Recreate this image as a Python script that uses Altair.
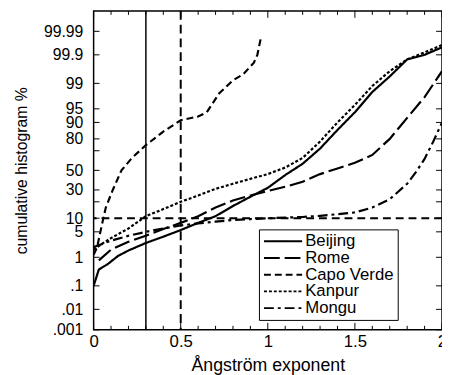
import altair as alt
import pandas as pd
from statistics import NormalDist

# ---------------- data ----------------
sites = ["Beijing", "Rome", "Capo Verde", "Kanpur", "Mongu"]

beijing_x = [0.0, 0.03, 0.08, 0.14, 0.2, 0.3, 0.4, 0.5, 0.6, 0.7, 0.8, 0.9, 1.0, 1.1, 1.2, 1.3, 1.4, 1.5, 1.6, 1.7, 1.8, 1.9, 2.0]
beijing_p = [0.1, 0.4, 0.6, 1.1, 1.6, 2.6, 3.8, 5.5, 8, 11, 17, 24, 32, 45, 57, 72, 86, 94, 98.2, 99.4, 99.85, 99.9, 99.95]

rome_x = [0.03, 0.1, 0.2, 0.3, 0.4, 0.5, 0.6, 0.7, 0.8, 0.9, 1.0, 1.1, 1.2, 1.3, 1.4, 1.5, 1.6, 1.7, 1.8, 1.9, 2.0]
rome_p = [0.8, 1.7, 2.8, 4, 5.8, 8, 11, 16, 21, 25, 29, 33, 38, 46, 52, 58, 66, 80, 92, 97.5, 99.6]

capo_x = [0.0, 0.02, 0.05, 0.07, 0.11, 0.16, 0.22, 0.3, 0.4, 0.5, 0.6, 0.65, 0.72, 0.8, 0.86, 0.92, 0.94, 0.96]
capo_p = [1.2, 2.0, 8, 16, 30, 50, 63, 75, 85, 91, 92.5, 94, 98, 99.2, 99.5, 99.8, 99.9, 99.98]

kanpur_x = [0.0, 0.05, 0.1, 0.2, 0.3, 0.4, 0.5, 0.6, 0.7, 0.8, 0.9, 1.0, 1.1, 1.2, 1.3, 1.4, 1.5, 1.6, 1.7, 1.8, 1.9, 2.0]
kanpur_p = [1.7, 2.5, 3.5, 6, 11, 15, 20, 25, 31, 36, 41, 46, 53, 63, 78, 90, 96, 98.8, 99.6, 99.85, 99.92, 99.96]

mongu_x = [0.0, 0.1, 0.2, 0.3, 0.4, 0.5, 0.6, 0.7, 0.8, 0.9, 1.0, 1.1, 1.2, 1.3, 1.4, 1.5, 1.6, 1.7, 1.8, 1.85, 1.9, 1.95, 2.0]
mongu_p = [2.0, 3, 4, 5, 6, 7, 7.8, 8.5, 9.2, 9.6, 10, 10.3, 10.6, 11.2, 12, 13, 16, 22, 36, 48, 62, 78, 90]

ytick_pcts = [99.99, 99.9, 99, 95, 90, 80, 50, 30, 10, 5, 1, 0.1, 0.01, 0.001]
ytick_labels = ["99.99", "99.9", "99", "95", "90", "80", "50", "30", "10", "5", "1", ".1", ".01", ".001"]
ytick_minor_pcts = [70, 20]
xtick_major = [0, 0.5, 1, 1.5, 2]
xtick_minor = [0.1, 0.2, 0.3, 0.4, 0.6, 0.7, 0.8, 0.9, 1.1, 1.2, 1.3, 1.4, 1.6, 1.7, 1.8, 1.9]

ref_x_solid = [0.3]
ref_x_dashed = [0.5]
ref_p_dashed = [10]

# ---------------- build tables ----------------
nd = NormalDist()
def probit(p):
    return nd.inv_cdf(p / 100.0)

rows = []
for name, xs, ps in [("Beijing", beijing_x, beijing_p), ("Rome", rome_x, rome_p),
                     ("Capo Verde", capo_x, capo_p), ("Kanpur", kanpur_x, kanpur_p),
                     ("Mongu", mongu_x, mongu_p)]:
    for i, (x, p) in enumerate(zip(xs, ps)):
        rows.append({"site": name, "x": x, "z": probit(p), "i": i})
df = pd.DataFrame(rows)

zlo, zhi = probit(0.001), probit(99.999)
yvals = [probit(p) for p in ytick_pcts]
label_expr = "''"
for v, lab in zip(yvals, ytick_labels):
    label_expr = f"abs(datum.value - ({v:.6f})) < 0.0001 ? '{lab}' : ({label_expr})"

W, H = 354, 324
FONT = "Liberation Sans"
dashes = [[1, 0], [16, 5], [7, 4], [3, 2], [10, 4, 3, 4]]

xscale = alt.Scale(domain=[0, 2], nice=False, zero=False)
yscale = alt.Scale(domain=[zlo, zhi], nice=False, zero=False)

common = dict(ticks=False, domain=False, grid=False, labelFlush=False,
              labelOverlap=False, labelBound=False, labelFont=FONT, titleFont=FONT,
              labelColor="black", titleColor="black", titleFontWeight="normal")
xaxis = alt.Axis(values=xtick_major, format="~g", title="Ångström exponent",
                 labelFontSize=17, labelPadding=4, titleFontSize=18, titlePadding=7, **common)
yaxis = alt.Axis(values=yvals, labelExpr=label_expr, title="cumulative histogram %",
                 labelFontSize=16, labelPadding=11, titleFontSize=16, titlePadding=14, **common)

def X(field="x"):
    return alt.X(f"{field}:Q", scale=xscale, axis=xaxis)

def Y(field="z"):
    return alt.Y(f"{field}:Q", scale=yscale, axis=yaxis)

lines = alt.Chart(df).mark_line(color="black", strokeWidth=2.2, clip=True).encode(
    x=X(), y=Y(),
    strokeDash=alt.StrokeDash("site:N", scale=alt.Scale(domain=sites, range=dashes),
                              legend=alt.Legend(title=None, orient="none", legendX=168, legendY=222)),
    order="i:Q",
)

vsolid = alt.Chart(pd.DataFrame({"x": ref_x_solid})).mark_rule(color="black", strokeWidth=1.5).encode(x=X())
vdash = alt.Chart(pd.DataFrame({"x": ref_x_dashed})).mark_rule(color="black", strokeWidth=2, strokeDash=[9, 5]).encode(x=X())
hdash = alt.Chart(pd.DataFrame({"z": [probit(p) for p in ref_p_dashed]})).mark_rule(
    color="black", strokeWidth=2, strokeDash=[8, 5]).encode(y=Y())

# inward ticks on all four sides
def xticks(vals, y0, y1):
    return alt.Chart(pd.DataFrame({"x": vals})).mark_rule(color="black", strokeWidth=1).encode(
        x=X(), y=alt.value(y0), y2=alt.value(y1))

yt_df = pd.DataFrame({"z": [probit(p) for p in ytick_pcts + ytick_minor_pcts]})
yt_left = alt.Chart(yt_df).mark_rule(color="black", strokeWidth=1).encode(
    y=Y(), x=alt.value(0), x2=alt.value(6))
yt_right = alt.Chart(yt_df).mark_rule(color="black", strokeWidth=1).encode(
    y=Y(), x=alt.value(W), x2=alt.value(W - 6))

chart = alt.layer(
    lines, vsolid, vdash, hdash,
    xticks(xtick_major, H, H - 7), xticks(xtick_minor, H, H - 4),
    xticks(xtick_major, 0, 7), xticks(xtick_minor, 0, 4),
    yt_left, yt_right,
).properties(
    width=W, height=H,
    autosize=alt.AutoSizeParams(type="none"),
    padding={"left": 87, "top": 0, "right": 0, "bottom": 43},
    background="white",
).configure_view(
    stroke="black", strokeWidth=1.5
).configure_legend(
    symbolType="stroke", symbolSize=1500, symbolStrokeWidth=2, symbolStrokeColor="black",
    labelFontSize=17, labelFont=FONT, labelColor="black",
    strokeColor="black", fillColor="white", padding=4,
    rowPadding=0, labelOffset=2, clipHeight=16,
)

chart.save("out.html", embed_options={"renderer": "svg", "actions": False})
